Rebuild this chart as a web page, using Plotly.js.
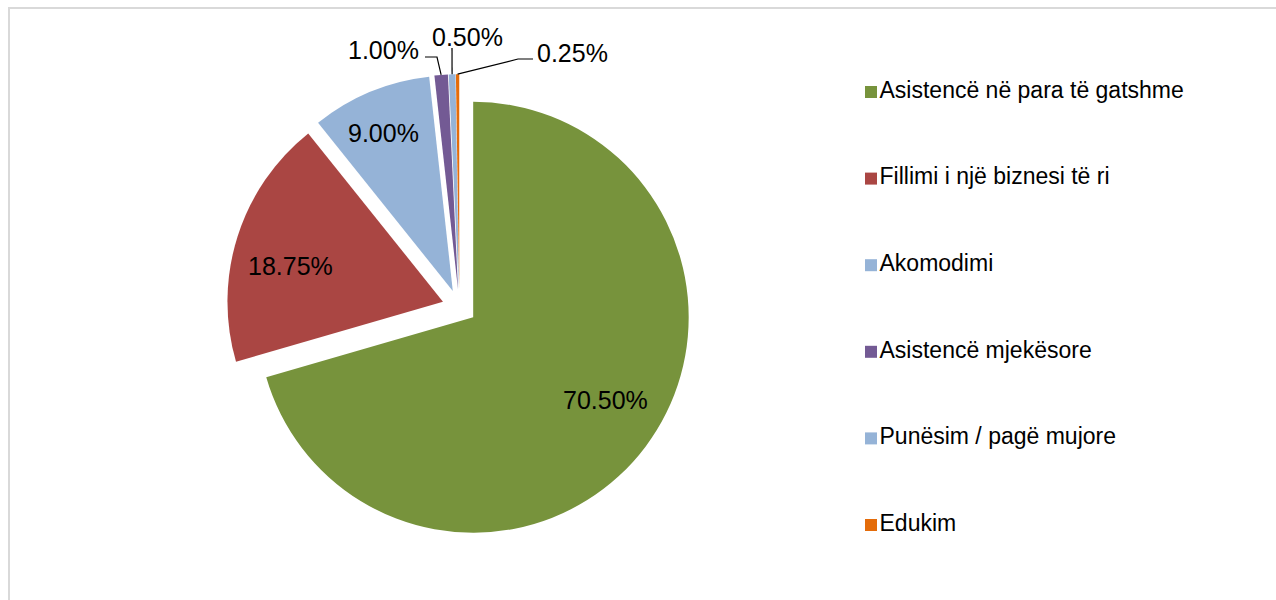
<!DOCTYPE html>
<html>
<head>
<meta charset="utf-8">
<script src="https://cdn.plot.ly/plotly-3.0.1.min.js"></script>
<style>html,body{margin:0;padding:0;background:#fff;}#chart{width:1276px;height:600px;}</style>
</head>
<body>
<div id="chart"></div>
<script>
const categories = [
  "Asistencë në para të gatshme",
  "Fillimi i një biznesi të ri",
  "Akomodimi",
  "Asistencë mjekësore",
  "Punësim / pagë mujore",
  "Edukim"
];
const values = [70.50, 18.75, 9.00, 1.00, 0.50, 0.25];
const colors = ["#77933C", "#AA4643", "#95B3D7", "#735A94", "#95B3D7", "#E46C0A"];

const W = 1276, H = 600;
const FONT = "Liberation Sans, Arial, sans-serif";
const pull = 0.08;
const pieCx = 459.4, pieCy = 306.9, R = 215.5;
const half = R * (1 + pull);

const px = x => x / W;
const py = y => 1 - y / H;

const pie = {
  type: "pie",
  labels: categories,
  values: values,
  sort: false,
  direction: "clockwise",
  rotation: 0,
  pull: values.map(() => pull),
  marker: { colors: colors, line: { width: 0 } },
  textinfo: "none",
  domain: { x: [px(pieCx - half), px(pieCx + half)], y: [py(pieCy + half), py(pieCy - half)] },
  showlegend: false,
  hoverinfo: "skip"
};

// legend drawn as a marker+text trace on a hidden axis
const legendTrace = {
  type: "scatter",
  mode: "markers+text",
  x: categories.map(() => 0),
  y: categories,
  xaxis: "x2", yaxis: "y2",
  text: categories,
  textposition: "middle right",
  cliponaxis: false,
  marker: { symbol: "square", size: 12, color: colors },
  textfont: { family: FONT, size: 23, color: "#000" },
  showlegend: false,
  hoverinfo: "skip"
};

// label placement (layout only) and leader-line elbows for the small slices
const labelLayout = [
  { lx: 605.5, ly: 400 },
  { lx: 290, ly: 266 },
  { lx: 383, ly: 133 },
  { lx: 383, ly: 50, path: [[425, 57], [437, 57]] },
  { lx: 467.5, ly: 37, path: [[452, 48]] },
  { lx: 572.5, ly: 53, path: [[533, 59], [518, 59]] }
];

const total = values.reduce((a, b) => a + b, 0);
let cum = 0;
const mids = values.map(v => { const m = (cum + v / 2) / total * 2 * Math.PI; cum += v; return m; });

const annotations = [];
const shapes = [{
  type: "rect", xref: "paper", yref: "paper",
  x0: px(9), x1: 1.05, y0: -0.05, y1: py(8),
  line: { color: "#D9D9D9", width: 2 }, fillcolor: "rgba(0,0,0,0)"
}];
labelLayout.forEach((s, i) => {
  annotations.push({
    xref: "paper", yref: "paper", x: px(s.lx), y: py(s.ly),
    xanchor: "center", yanchor: "middle", showarrow: false,
    text: values[i].toFixed(2) + "%",
    font: { family: FONT, size: 25, color: "#000" }
  });
  if (s.path) {
    const th = mids[i];
    const ax = pieCx + R * (1 + pull) * Math.sin(th);
    const ay = pieCy - R * (1 + pull) * Math.cos(th);
    const pts = s.path.concat([[ax, ay]]);
    const d = pts.map((p, k) => (k ? "L" : "M") + px(p[0]) + "," + py(p[1])).join(" ");
    shapes.push({ type: "path", xref: "paper", yref: "paper", path: d, line: { color: "#000", width: 1.2 } });
  }
});

const layout = {
  width: W, height: H,
  margin: { l: 0, r: 0, t: 0, b: 0 },
  paper_bgcolor: "#fff", plot_bgcolor: "rgba(0,0,0,0)",
  font: { family: FONT, color: "#000" },
  xaxis2: { domain: [px(861), px(881)], range: [-1, 1], visible: false, fixedrange: true, anchor: "y2" },
  yaxis2: { domain: [py(568.3), py(48.7)], range: [5.5, -0.5], type: "category", visible: false, fixedrange: true, anchor: "x2" },
  annotations: annotations,
  shapes: shapes
};

Plotly.newPlot("chart", [pie, legendTrace], layout, { staticPlot: true, displayModeBar: false });
</script>
</body>
</html>
